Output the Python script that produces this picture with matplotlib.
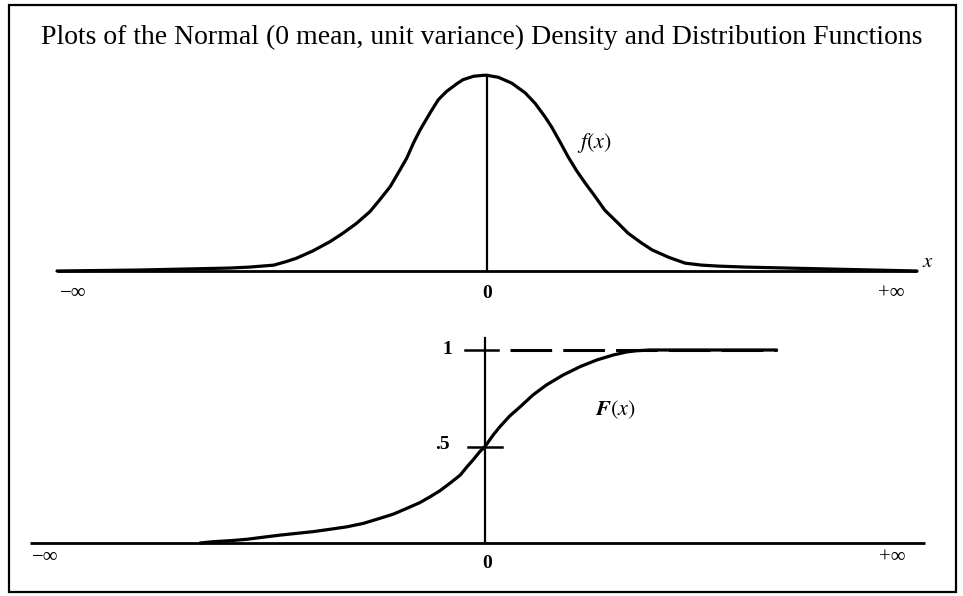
import matplotlib
matplotlib.use('Agg')
import matplotlib.pyplot as plt
from matplotlib.patches import Rectangle

plt.rcParams['font.family'] = ['Liberation Serif', 'DejaVu Serif']
plt.rcParams['mathtext.fontset'] = 'stix'
plt.rcParams['lines.scale_dashes'] = False

## figure size in pixels
W, H = 963, 596

## density f(x), points
dens_x = [-5.73, -4.63, -3.43, -3.16, -2.84, -2.68, -2.54, -2.32, -2.09, -1.92, -1.74, -1.56, -1.43,
          -1.29, -1.16, -1.07, -0.98, -0.89, -0.76, -0.65, -0.54, -0.40, -0.32, -0.18, -0.05, 0.0,
          0.15, 0.33, 0.51, 0.64, 0.77, 0.86, 0.97, 1.08, 1.20, 1.31, 1.44, 1.57, 1.75, 1.88,
          2.06, 2.20, 2.42, 2.64, 2.86, 3.08, 3.44, 4.57, 5.73]
dens_y = [0.0, 0.002, 0.006, 0.008, 0.012, 0.019, 0.026, 0.041, 0.060, 0.077, 0.097, 0.121, 0.145,
          0.172, 0.206, 0.230, 0.261, 0.288, 0.322, 0.349, 0.366, 0.382, 0.390, 0.397, 0.399, 0.399,
          0.395, 0.383, 0.363, 0.342, 0.315, 0.294, 0.264, 0.233, 0.203, 0.179, 0.152, 0.124, 0.097, 0.077,
          0.057, 0.043, 0.028, 0.016, 0.012, 0.010, 0.008, 0.004, 0.0]

## distribution F(x), points
cdf_x = [-3.80, -3.62, -3.40, -3.18, -2.96, -2.73, -2.51, -2.29, -2.07, -1.84, -1.62, -1.40, -1.22,
         -1.04, -0.87, -0.73, -0.60, -0.47, -0.33, -0.24, -0.16, -0.07, 0.0,
         0.11, 0.20, 0.33, 0.47, 0.64, 0.82, 1.04, 1.27, 1.49, 1.71, 1.89, 2.02, 2.20, 2.38, 3.89]
cdf_y = [0.0, 0.007, 0.012, 0.019, 0.030, 0.041, 0.050, 0.059, 0.071, 0.084, 0.102, 0.128, 0.150,
         0.180, 0.209, 0.240, 0.271, 0.309, 0.352, 0.395, 0.430, 0.473, 0.5,
         0.560, 0.603, 0.658, 0.706, 0.767, 0.819, 0.870, 0.914, 0.948, 0.974, 0.990, 0.996, 1.0, 1.0, 1.0]

## axis limits ("infinity" ends)
upper_xlim = (-5.73, 5.73)
lower_xlim = (-6.07, 5.87)

title = 'Plots of the Normal (0 mean, unit variance) Density and Distribution Functions'


def px_box(left, right, bottom, top):
    # pixel box -> figure fraction [l, b, w, h]
    return [left / W, 1 - bottom / H, (right - left) / W, (bottom - top) / H]


fig = plt.figure(figsize=(W / 100, H / 100), dpi=100)

# outer frame
fig.patches.append(Rectangle((9 / W, 1 - 592 / H), 947 / W, 587 / H, transform=fig.transFigure,
                             fill=False, lw=1.6, color='black'))
fig.text(482 / W, 1 - 37 / H, title, ha='center', va='center', fontsize=20)

########################################
## upper panel: density
########################################
ax1 = fig.add_axes(px_box(57, 917, 271, 65))
ax1.set_xlim(*upper_xlim)
ax1.set_ylim(0, 0.42)
ax1.axis('off')

ax1.plot(upper_xlim, [0, 0], color='black', lw=2.0, clip_on=False, solid_capstyle='butt')
ax1.plot([0, 0], [0, max(dens_y)], color='black', lw=1.6, clip_on=False)
ax1.plot(dens_x, dens_y, color='black', lw=2.3, clip_on=False,
         solid_joinstyle='round', solid_capstyle='round')

ax1.text(-5.51, -0.045, '−∞', ha='center', va='center', fontsize=15)
ax1.text(0, -0.045, '0', ha='center', va='center', fontsize=14, fontweight='bold')
ax1.text(5.39, -0.045, '+∞', ha='center', va='center', fontsize=15)
ax1.text(5.87, 0.018, r'$x$', ha='center', va='center', fontsize=15)
ax1.text(1.20, 0.26, r'$f(x)$', ha='left', va='center', fontsize=16)

########################################
## lower panel: distribution
########################################
ax2 = fig.add_axes(px_box(30, 925, 543, 330.7))
ax2.set_xlim(*lower_xlim)
ax2.set_ylim(0, 1.1)
ax2.axis('off')

ax2.plot(lower_xlim, [0, 0], color='black', lw=2.0, clip_on=False, solid_capstyle='butt')
ax2.plot([0, 0], [0, 1.06], color='black', lw=1.6, clip_on=False)
# ticks at 1 and .5
ax2.plot([-0.27, 0.17], [1, 1], color='black', lw=1.8, clip_on=False)
ax2.plot([-0.23, 0.23], [0.5, 0.5], color='black', lw=1.8, clip_on=False)
# dashed asymptote at 1
ax2.plot([0.33, max(cdf_x)], [1, 1], color='black', lw=2.2, dashes=(30, 8), clip_on=False)
ax2.plot(cdf_x, cdf_y, color='black', lw=2.3, clip_on=False,
         solid_joinstyle='round', solid_capstyle='round')

ax2.text(-0.50, 1.0, '1', ha='center', va='center', fontsize=14, fontweight='bold')
ax2.text(-0.57, 0.51, '.5', ha='center', va='center', fontsize=14, fontweight='bold')
ax2.text(1.47, 0.69, r'$\mathbfit{F}(x)$', ha='left', va='center', fontsize=16)
ax2.text(-5.87, -0.075, '−∞', ha='center', va='center', fontsize=15)
ax2.text(0.03, -0.105, '0', ha='center', va='center', fontsize=14, fontweight='bold')
ax2.text(5.44, -0.075, '+∞', ha='center', va='center', fontsize=15)

fig.savefig('out.png', dpi=100)
